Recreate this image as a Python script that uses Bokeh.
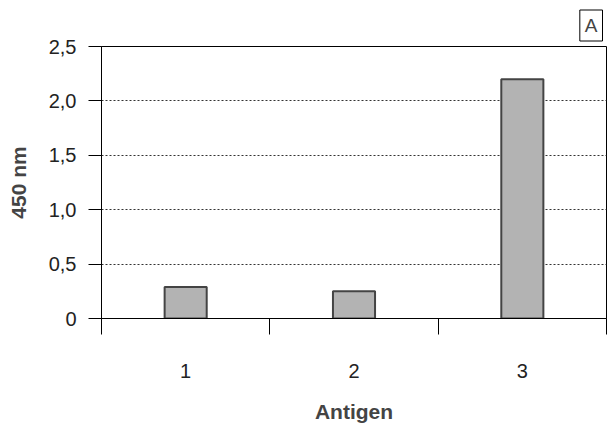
from bokeh.plotting import figure
from bokeh.models import Range1d, FixedTicker, Title
from bokeh.embed import file_html
from bokeh.resources import INLINE

categories = ["1", "2", "3"]
values = [0.29, 0.25, 2.20]
y_ticks = [0, 0.5, 1.0, 1.5, 2.0, 2.5]
y_tick_labels = ["0", "0,5", "1,0", "1,5", "2,0", "2,5"]
panel_letter = "A"

xs = [i + 1 for i in range(len(categories))]

p = figure(width=607, height=425, output_backend="svg", toolbar_location=None,
           x_range=Range1d(0.5, 3.5), y_range=Range1d(0, 2.5),
           min_border_left=101, min_border_right=1, min_border_top=46, min_border_bottom=107)
p.background_fill_color = "white"
p.border_fill_color = "white"
p.outline_line_color = "black"
p.outline_line_width = 1

p.vbar(x=xs, top=values, width=0.25, fill_color="#b3b3b3", line_color="#444444", line_width=2)

FONT = "Liberation Sans"

# y axis
p.yaxis.ticker = FixedTicker(ticks=y_ticks)
p.yaxis.major_label_overrides = {t: l for t, l in zip(y_ticks, y_tick_labels)}
p.yaxis.major_tick_out = 13
p.yaxis.major_tick_in = 0
p.yaxis.minor_tick_line_color = None
p.yaxis.major_label_standoff = 12
p.yaxis.axis_label = "450 nm"
p.yaxis.axis_label_text_font = FONT
p.yaxis.axis_label_text_font_style = "bold"
p.yaxis.axis_label_text_font_size = "21px"
p.yaxis.axis_label_standoff = 16
p.yaxis.major_label_text_font = FONT
p.yaxis.major_label_text_font_size = "20px"
p.yaxis.major_label_text_color = "#222222"
p.yaxis.axis_line_color = "black"

# x axis
p.xaxis.ticker = FixedTicker(ticks=xs, minor_ticks=[0.5, 1.5, 2.5, 3.5])
p.xaxis.major_label_overrides = {x: c for x, c in zip(xs, categories)}
p.xaxis.major_tick_out = 0
p.xaxis.major_tick_in = 0
p.xaxis.minor_tick_out = 16
p.xaxis.minor_tick_in = 0
p.xaxis.minor_tick_line_color = "black"
p.xaxis.major_label_standoff = 29
p.xaxis.axis_label = "Antigen"
p.xaxis.axis_label_text_font = FONT
p.xaxis.axis_label_text_font_style = "bold"
p.xaxis.axis_label_text_font_size = "21px"
p.xaxis.axis_label_standoff = 19
p.xaxis.major_label_text_font = FONT
p.xaxis.major_label_text_font_size = "20px"
p.xaxis.major_label_text_color = "#222222"
p.xaxis.axis_line_color = "black"

p.xgrid.grid_line_color = None
p.ygrid.ticker = FixedTicker(ticks=[0.5, 1.0, 1.5, 2.0])
p.ygrid.grid_line_color = "#333333"
p.ygrid.grid_line_dash = "2 2"
p.ygrid.grid_line_width = 1

t = Title(text=panel_letter, align="right", text_font=FONT, text_font_size="19px",
          text_font_style="normal", border_line_color="black", border_line_width=1,
          background_fill_color="white", padding=5, offset=4, standoff=11)
p.add_layout(t, "above")

open("out.html", "w").write(file_html(p, INLINE))
